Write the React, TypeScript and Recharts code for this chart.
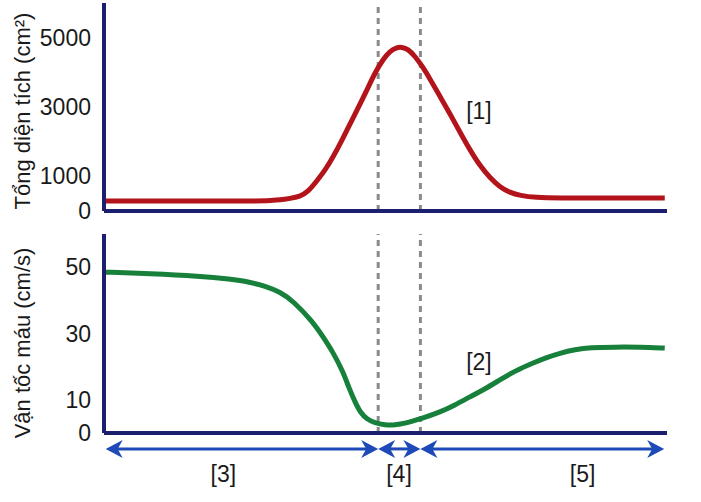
import {
  LineChart,
  Line,
  XAxis,
  YAxis,
  ReferenceLine,
  ReferenceDot,
} from "recharts"

// position along the vessel system, 0..100
const areaX = [0, 17.05, 27.7, 29.5, 31.3, 33.0, 34.8, 36.2, 37.8, 39.3, 40.7, 42.3, 43.7, 45.3, 46.7, 48.1, 49.6, 50.8, 51.9, 52.9, 54.0, 55.2, 56.5, 57.9, 59.7, 61.5, 63.2, 65.0, 66.8, 68.6, 70.3, 72.1, 73.9, 76.6, 81.0, 88.1, 99.6]
const areaValues = [288, 288, 288, 303, 317, 361, 418, 548, 865, 1183, 1558, 2048, 2510, 3029, 3490, 3981, 4385, 4615, 4716, 4731, 4673, 4471, 4183, 3810, 3300, 2790, 2280, 1760, 1298, 952, 692, 534, 447, 389, 375, 375, 375]

const speedX = [0, 8.2, 17.05, 22.4, 25.9, 28.6, 31.3, 33.6, 37.1, 38.9, 40.7, 42.5, 43.5, 44.6, 45.6, 46.7, 48.1, 49.9, 51.7, 53.5, 56.1, 59.7, 62.3, 65.0, 67.7, 70.3, 73.0, 76.2, 78.3, 81.0, 83.7, 86.3, 90.8, 95.2, 99.6]
const speedValues = [48.5, 48.1, 47.3, 46.4, 45.5, 44.3, 42.5, 39.8, 33.5, 29.0, 24.3, 18.3, 13.6, 9.3, 6.0, 4.2, 3.0, 2.4, 2.4, 2.9, 4.2, 6.3, 8.4, 10.9, 13.3, 16.0, 18.7, 21.1, 22.6, 24.1, 25.2, 25.8, 25.9, 25.9, 25.6]

const areaTicks = [0, 1000, 3000, 5000]
const speedTicks = [0, 10, 30, 50]

const dividers = [48.7, 56.2]
const segmentBounds = [0.3, 48.7, 56.2, 99.5]
const segmentLabels = ["[3]", "[4]", "[5]"]
const segmentLabelX = [21.2, 52.4, 85.0]

const areaData = areaX.map((x, i) => ({ x, v: areaValues[i] }))
const speedData = speedX.map((x, i) => ({ x, v: speedValues[i] }))

const FONT = "'Liberation Sans', Arial, sans-serif"
const NAVY = "#1b1f6e"
const ARROW = "#1d4ab8"
const TEXT = "#1a1a1a"

function AxisTitle({ text, y }: { text: string; y: number }) {
  return (
    <text
      x={22}
      y={y}
      transform={`rotate(-90 22 ${y})`}
      textAnchor="middle"
      dominantBaseline="central"
      fontSize={22}
      fontFamily={FONT}
      fill={TEXT}
    >
      {text}
    </text>
  )
}

function DoubleArrow(props: any) {
  const { x1, x2, y1 } = props
  const a = Math.min(x1, x2)
  const b = Math.max(x1, x2)
  const L = 17
  const W = 9
  return (
    <g>
      <line x1={a + 10} y1={y1} x2={b - 10} y2={y1} stroke={ARROW} strokeWidth={3} />
      <polygon points={`${a},${y1} ${a + L},${y1 - W} ${a + L - 5},${y1} ${a + L},${y1 + W}`} fill={ARROW} />
      <polygon points={`${b},${y1} ${b - L},${y1 - W} ${b - L + 5},${y1} ${b - L},${y1 + W}`} fill={ARROW} />
    </g>
  )
}

function SegmentTick(props: any) {
  const { x, y, index } = props
  return (
    <text
      x={x}
      y={y + 41}
      textAnchor="middle"
      dominantBaseline="central"
      fontSize={23}
      fontFamily={FONT}
      fill={TEXT}
    >
      {segmentLabels[index]}
    </text>
  )
}

const tickStyle = { fontSize: 23, fontFamily: FONT, fill: TEXT }

export default function App() {
  return (
    <div style={{ position: "absolute", left: 0, top: 0, width: 701, height: 502, background: "#fff" }}>
      <div style={{ position: "absolute", left: 0, top: 0 }}>
        <LineChart width={701} height={230} margin={{ top: 3, right: 34, bottom: 0, left: 0 }}>
          <XAxis
            type="number"
            dataKey="x"
            domain={[0, 100]}
            height={19}
            tick={false}
            tickLine={false}
            axisLine={{ stroke: NAVY, strokeWidth: 4 }}
          />
          <YAxis
            type="number"
            domain={[0, 6000]}
            ticks={areaTicks}
            width={104}
            tickSize={0}
            tickMargin={13}
            tickLine={false}
            tick={tickStyle}
            axisLine={{ stroke: NAVY, strokeWidth: 4 }}
            label={{ content: () => <AxisTitle text="Tổng diện tích (cm²)" y={111} /> }}
          />
          {dividers.map((d) => (
            <ReferenceLine key={d} x={d} stroke="#8a8a8a" strokeWidth={3} strokeDasharray="6 5" />
          ))}
          <Line
            data={areaData}
            dataKey="v"
            type="basis"
            stroke="#b3141c"
            strokeWidth={5}
            dot={false}
            isAnimationActive={false}
          />
          <ReferenceDot
            x={66.6}
            y={2900}
            r={0}
            fill="none"
            stroke="none"
            label={{ value: "[1]", position: "center", fontSize: 23, fontFamily: FONT, fill: TEXT }}
          />
        </LineChart>
      </div>
      <div style={{ position: "absolute", left: 0, top: 222 }}>
        <LineChart width={701} height={280} margin={{ top: 12, right: 34, bottom: 0, left: 0 }}>
          <XAxis
            type="number"
            dataKey="x"
            domain={[0, 100]}
            height={69}
            ticks={segmentLabelX}
            tickSize={0}
            tickMargin={0}
            tickLine={false}
            tick={<SegmentTick />}
            axisLine={{ stroke: NAVY, strokeWidth: 4 }}
          />
          <YAxis
            type="number"
            domain={[0, 60]}
            ticks={speedTicks}
            width={104}
            tickSize={0}
            tickMargin={13}
            tickLine={false}
            tick={tickStyle}
            axisLine={{ stroke: NAVY, strokeWidth: 4 }}
            label={{ content: () => <AxisTitle text="Vận tốc máu (cm/s)" y={121} /> }}
          />
          {dividers.map((d) => (
            <ReferenceLine key={d} x={d} stroke="#8a8a8a" strokeWidth={3} strokeDasharray="6 5" />
          ))}
          <Line
            data={speedData}
            dataKey="v"
            type="basis"
            stroke="#17803a"
            strokeWidth={5}
            dot={false}
            isAnimationActive={false}
          />
          <ReferenceDot
            x={66.6}
            y={21.4}
            r={0}
            fill="none"
            stroke="none"
            label={{ value: "[2]", position: "center", fontSize: 23, fontFamily: FONT, fill: TEXT }}
          />
          {segmentLabels.map((s, i) => (
            <ReferenceLine
              key={s}
              ifOverflow="visible"
              segment={[
                { x: segmentBounds[i], y: -4.8 },
                { x: segmentBounds[i + 1], y: -4.8 },
              ]}
              shape={(p: any) => <DoubleArrow {...p} />}
            />
          ))}
        </LineChart>
      </div>
    </div>
  )
}
